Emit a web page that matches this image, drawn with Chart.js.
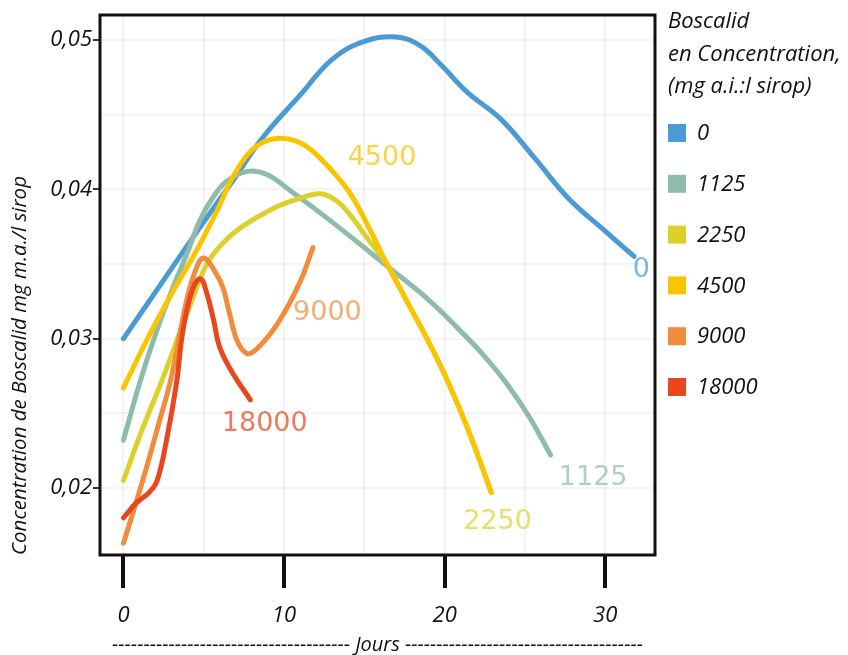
<!DOCTYPE html>
<html>
<head>
<meta charset="utf-8">
<script src="https://cdn.jsdelivr.net/npm/chart.js@4"></script>
<style>
  html, body { margin: 0; padding: 0; background: #fff; }
  #wrap { width: 848px; height: 655px; }
</style>
</head>
<body>
<div id="wrap"><canvas id="chart" width="848" height="655"></canvas></div>
<script>
'use strict';

// doses (mg a.i./l sirop)
const doses = ['0', '1125', '2250', '4500', '9000', '18000'];
const colors = ['#4a9ad6', '#8fbcaa', '#dcd12a', '#fac400', '#f28c3c', '#e8461c'];

// jours / concentration
const jours0 = [0, 2.3, 4.6, 6.7, 8.7, 11, 13, 15, 17, 18.5, 19.8, 21.4, 23.5, 25.6, 27.7, 30, 31.8];
const conc0 = [0.0300, 0.0336, 0.0372, 0.0404, 0.0435, 0.0463, 0.0487, 0.0499, 0.0502, 0.0496, 0.0483, 0.0465, 0.0447, 0.0421, 0.0394, 0.0372, 0.0355];

const jours1125 = [0, 1, 2, 3, 4, 4.75, 5.6, 6.4, 7.7, 8.9, 10.4, 13, 16.6, 19, 21, 22.5, 24, 25.3, 26.6];
const conc1125 = [0.0232, 0.0270, 0.0303, 0.0332, 0.0358, 0.0379, 0.0395, 0.0405, 0.0412, 0.0410, 0.0399, 0.0378, 0.0347, 0.0326, 0.0305, 0.0288, 0.0268, 0.0247, 0.0222];

const jours2250 = [0, 1.2, 2.4, 4, 5.2, 6.2, 7.25, 9.3, 11, 12.25, 13.3, 14.1, 15.2, 16.4, 17.6, 18.8, 20, 21.2, 22.2, 22.9];
const conc2250 = [0.0205, 0.0240, 0.0272, 0.0318, 0.0350, 0.0364, 0.0374, 0.0387, 0.0394, 0.0397, 0.0392, 0.0383, 0.0367, 0.0350, 0.0326, 0.0302, 0.0276, 0.0246, 0.0218, 0.0197];

const jours4500 = [0, 1.5, 3, 4.5, 5.8, 6.8, 7.8, 8.8, 10, 11.2, 12.5, 14, 15.3, 16.4, 17.6, 18.8, 20, 21.2, 22.2, 22.9];
const conc4500 = [0.0267, 0.0300, 0.0330, 0.0358, 0.0385, 0.0408, 0.0424, 0.0432, 0.0434, 0.0430, 0.0418, 0.0399, 0.0374, 0.0350, 0.0326, 0.0302, 0.0276, 0.0246, 0.0218, 0.0197];

const jours9000 = [0, 1.2, 2.25, 3, 3.9, 4.5, 5, 5.8, 6.2, 6.6, 7.1, 7.7, 8.3, 9.6, 11, 11.8];
const conc9000 = [0.0163, 0.0205, 0.0245, 0.0275, 0.0324, 0.0346, 0.0354, 0.0343, 0.0334, 0.0317, 0.0298, 0.0290, 0.0293, 0.0310, 0.0338, 0.0361];

const jours18000 = [0, 0.8, 1.6, 2.1, 2.7, 3.3, 3.7, 4.3, 4.8, 5.2, 5.6, 6, 6.8, 7.9];
const conc18000 = [0.0180, 0.0190, 0.0197, 0.0205, 0.0233, 0.0270, 0.0305, 0.0333, 0.0340, 0.0330, 0.0313, 0.0294, 0.0277, 0.0259];

const allJours = [jours0, jours1125, jours2250, jours4500, jours9000, jours18000];
const allConc = [conc0, conc1125, conc2250, conc4500, conc9000, conc18000];

// where the dose is written next to each curve
const labelJours = [32.25, 29.25, 23.3, 16.1, 12.7, 8.8];
const labelConc = [0.0346, 0.0207, 0.0177, 0.0421, 0.0317, 0.0243];

const xTicks = [0, 5, 10, 15, 20, 25, 30];
const yTicks = [0.02, 0.025, 0.03, 0.035, 0.04, 0.045, 0.05];

const legendTitle = ['Boscalid', 'en Concentration,', '(mg a.i.:l sirop)'];

const FONT = "'Open Sans', sans-serif";
const isMajor = (v, step) => Math.abs(v / step - Math.round(v / step)) < 1e-6;

const frame = {
  id: 'frame',
  afterDatasetsDraw(chart) {
    const { ctx, chartArea: a } = chart;
    ctx.save();
    ctx.strokeStyle = '#111';
    ctx.lineWidth = 3;
    ctx.strokeRect(a.left, a.top, a.right - a.left, a.bottom - a.top);
    ctx.restore();
  }
};

const curveLabels = {
  id: 'curveLabels',
  afterDatasetsDraw(chart) {
    const { ctx, scales } = chart;
    ctx.save();
    ctx.font = "27px 'DejaVu Sans'";
    ctx.textAlign = 'center';
    ctx.textBaseline = 'middle';
    chart.data.datasets.forEach((ds, i) => {
      ctx.globalAlpha = 0.72;
      ctx.fillStyle = ds.borderColor;
      ctx.fillText(ds.label, scales.x.getPixelForValue(labelJours[i]), scales.y.getPixelForValue(labelConc[i]));
    });
    ctx.restore();
  }
};

const sideLegend = {
  id: 'sideLegend',
  afterDraw(chart) {
    const { ctx, chartArea } = chart;
    const x = chartArea.right + 13;
    ctx.save();
    ctx.font = "italic 22px " + FONT;
    ctx.fillStyle = '#111';
    ctx.textBaseline = 'middle';
    ctx.textAlign = 'left';
    legendTitle.forEach((line, i) => ctx.fillText(line, x, 22 + i * 32.5));
    chart.data.datasets.forEach((ds, i) => {
      const y = 133 + i * 50.8;
      ctx.fillStyle = ds.borderColor;
      ctx.fillRect(x, y - 9, 18, 18);
      ctx.fillStyle = '#111';
      ctx.fillText(ds.label, x + 29, y + 1);
    });
    ctx.restore();
  }
};

const datasets = doses.map((d, i) => ({
  label: d,
  data: allJours[i].map((j, k) => ({ x: j, y: allConc[i][k] })),
  borderColor: colors[i],
  backgroundColor: colors[i],
  borderWidth: 5,
  borderCapStyle: 'round',
  borderJoinStyle: 'round',
  pointRadius: 0,
  tension: 0.4,
  order: doses.length - i
}));

new Chart(document.getElementById('chart'), {
  type: 'line',
  data: { datasets },
  options: {
    responsive: false,
    animation: false,
    layout: { padding: { left: 0, top: 15, right: 193, bottom: 0 } },
    plugins: { legend: { display: false }, tooltip: { enabled: false } },
    scales: {
      x: {
        type: 'linear',
        min: -1.46,
        max: 33.1,
        afterBuildTicks: axis => { axis.ticks = xTicks.map(v => ({ value: v })); },
        afterFit: axis => { axis.height = 100; },
        border: { display: false },
        grid: {
          color: 'rgba(0,0,0,0.045)',
          lineWidth: 2,
          tickLength: 33,
          tickWidth: 4,
          tickColor: c => isMajor(c.tick.value, 10) ? '#111' : 'rgba(0,0,0,0)'
        },
        ticks: {
          padding: 15,
          color: '#111',
          font: { family: FONT, size: 22, style: 'italic' },
          maxRotation: 0,
          callback: v => isMajor(v, 10) ? String(v) : ''
        },
        title: {
          display: true,
          text: '-------------------------------------- Jours --------------------------------------',
          color: '#111',
          font: { family: FONT, size: 20, style: 'italic', lineHeight: 1 },
          padding: { top: 0, bottom: 0 }
        }
      },
      y: {
        type: 'linear',
        min: 0.01551,
        max: 0.05167,
        afterBuildTicks: axis => { axis.ticks = yTicks.map(v => ({ value: v })); },
        afterFit: axis => { axis.width = 100; },
        border: { display: false },
        grid: {
          color: 'rgba(0,0,0,0.045)',
          lineWidth: 2,
          tickLength: 7,
          tickWidth: 2,
          tickColor: c => isMajor(c.tick.value, 0.01) ? '#333' : 'rgba(0,0,0,0)'
        },
        ticks: {
          padding: 1,
          color: '#111',
          font: { family: FONT, size: 22, style: 'italic' },
          callback: v => isMajor(v, 0.01) ? v.toFixed(2).replace('.', ',') : ''
        },
        title: {
          display: true,
          align: 'start',
          text: 'Concentration de Boscalid mg m.a./l sirop',
          color: '#111',
          font: { family: FONT, size: 20.5, style: 'italic' },
          padding: { top: 8, bottom: 0 }
        }
      }
    }
  },
  plugins: [frame, curveLabels, sideLegend]
});
</script>
</body>
</html>
